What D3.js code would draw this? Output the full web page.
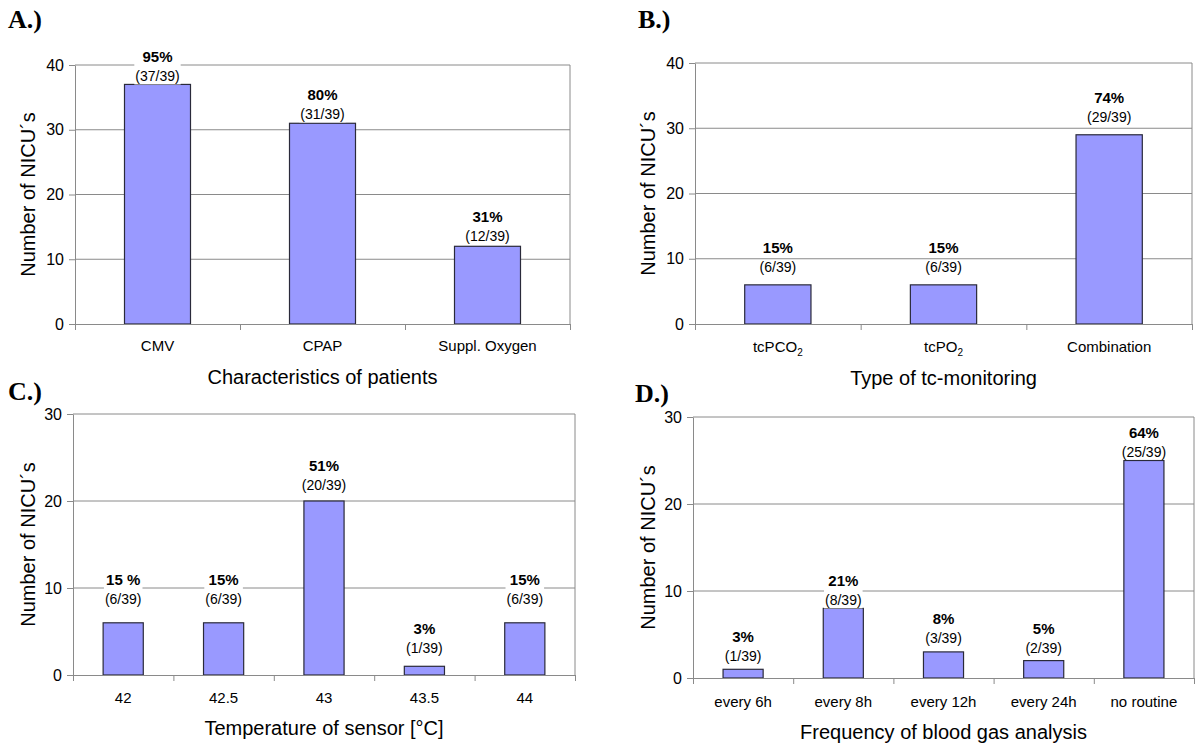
<!DOCTYPE html>
<html>
<head>
<meta charset="utf-8">
<script src="https://cdn.jsdelivr.net/npm/d3@7"></script>
<style>
  body { margin: 0; background: #fff; }
  text { font-family: "Liberation Sans", Arial, sans-serif; fill: #000; }
  text.letter { font-family: "Liberation Serif", "Times New Roman", serif; }
</style>
</head>
<body>
<svg id="chart" width="1200" height="750"></svg>
<script>
const total = 39;

// A.) characteristics of patients
const catsA = ["CMV", "CPAP", "Suppl. Oxygen"];
const valsA = [37, 31, 12];
const pctA = ["95%", "80%", "31%"];

// B.) type of tc-monitoring
const catsB = ["tcPCO2", "tcPO2", "Combination"];
const valsB = [6, 6, 29];
const pctB = ["15%", "15%", "74%"];

// C.) temperature of sensor
const catsC = ["42", "42.5", "43", "43.5", "44"];
const valsC = [6, 6, 20, 1, 6];
const pctC = ["15 %", "15%", "51%", "3%", "15%"];

// D.) frequency of blood gas analysis
const catsD = ["every 6h", "every 8h", "every 12h", "every 24h", "no routine"];
const valsD = [1, 8, 3, 2, 25];
const pctD = ["3%", "21%", "8%", "5%", "64%"];

const yTitle = "Number of NICU\u00B4s";

const panels = [
  { letter: "A.)", lx: 8, ly: 28, cats: catsA, vals: valsA, pct: pctA, max: 40,
    left: 75, right: 570, top: 65, bottom: 324, title: "Characteristics of patients",
    catY: 346, titleY: 377, ytX: 28, gaps: [8, 9, 10], labelBg: true },
  { letter: "B.)", lx: 638, ly: 28, cats: catsB, vals: valsB, pct: pctB, max: 40,
    left: 695, right: 1192, top: 63, bottom: 324, title: "Type of tc-monitoring",
    catY: 347, titleY: 378, ytX: 648, gaps: [18, 18, 18], labelBg: false },
  { letter: "C.)", lx: 8, ly: 400, cats: catsC, vals: valsC, pct: pctC, max: 30,
    left: 73, right: 575, top: 414, bottom: 675, title: "Temperature of sensor [\u00B0C]",
    catY: 698, titleY: 728, ytX: 28, gaps: [24, 24, 16, 18, 24], labelBg: true },
  { letter: "D.)", lx: 635, ly: 402, cats: catsD, vals: valsD, pct: pctD, max: 30,
    left: 693, right: 1194, top: 417, bottom: 678, title: "Frequency of blood gas analysis",
    catY: 702, titleY: 732, ytX: 648, gaps: [13, 8, 14, 13, 9], labelBg: true }
];

const svg = d3.select("#chart");
const gridColor = "#8a8a8a";

function catLabel(sel, name) {
  // tcPCO2 / tcPO2 get a subscript 2
  const m = name.match(/^(tcP(?:C)?O)2$/);
  if (m) {
    sel.append("tspan").text(m[1]);
    sel.append("tspan").attr("font-size", 10).attr("dy", 4).text("2");
  } else {
    sel.text(name);
  }
}

function drawPanel(p) {
  const g = svg.append("g");
  const n = p.cats.length;

  const y = d3.scaleLinear().domain([0, p.max]).range([p.bottom, p.top]);
  const x = d3.scaleBand().domain(p.cats).range([p.left, p.right])
    .paddingInner(0.6).paddingOuter(0.3);
  const xb = d3.scaleLinear().domain([0, n]).range([p.left, p.right]);
  const yTicks = d3.range(0, p.max + 1, 10);

  // gridlines
  g.append("g").selectAll("line")
    .data(yTicks.filter(d => d > 0))
    .join("line")
      .attr("x1", p.left).attr("x2", p.right)
      .attr("y1", d => y(d)).attr("y2", d => y(d))
      .attr("stroke", gridColor).attr("stroke-width", 1);

  // right edge of plot area
  g.append("line")
    .attr("x1", p.right).attr("x2", p.right)
    .attr("y1", y(p.max)).attr("y2", y(0))
    .attr("stroke", gridColor);

  // bars
  g.append("g").selectAll("rect")
    .data(p.vals)
    .join("rect")
      .attr("x", (d, i) => x(p.cats[i]))
      .attr("y", d => y(d))
      .attr("width", x.bandwidth())
      .attr("height", d => y(0) - y(d))
      .attr("fill", "#9999ff")
      .attr("stroke", "#2a2a3a")
      .attr("stroke-width", 1.2);

  // value labels
  const lab = g.append("g").selectAll("g")
    .data(p.vals)
    .join("g")
      .attr("transform", (d, i) => `translate(${x(p.cats[i]) + x.bandwidth() / 2},${y(d) - p.gaps[i]})`);

  const bg = lab.append("rect").attr("fill", "#fff");
  lab.append("text")
    .attr("text-anchor", "middle")
    .attr("y", 5)
    .attr("font-size", 14)
    .text(d => `(${d}/${total})`);
  lab.append("text")
    .attr("text-anchor", "middle")
    .attr("y", -14)
    .attr("font-size", 15)
    .attr("font-weight", "bold")
    .text((d, i) => p.pct[i]);

  if (p.labelBg) {
    bg.each(function () {
      const b = this.parentNode.getBBox();
      d3.select(this).attr("x", b.x - 1).attr("y", b.y).attr("width", b.width + 2).attr("height", b.height);
    });
  } else {
    bg.remove();
  }

  // y axis
  const ya = g.append("g")
    .attr("transform", `translate(${p.left},0)`)
    .call(d3.axisLeft(y).tickValues(yTicks).tickSize(6).tickSizeOuter(0).tickPadding(5));
  ya.select(".domain").attr("stroke", gridColor);
  ya.selectAll(".tick line").attr("stroke", gridColor);
  ya.selectAll(".tick text").attr("font-size", 16).attr("fill", "#000");

  // x axis (tick marks between categories)
  const xa = g.append("g")
    .attr("transform", `translate(0,${p.bottom})`)
    .call(d3.axisBottom(xb).tickValues(d3.range(n + 1)).tickFormat("").tickSize(6).tickSizeOuter(0));
  xa.select(".domain").attr("stroke", gridColor);
  xa.selectAll(".tick line").attr("stroke", gridColor);

  // category labels
  g.append("g").selectAll("text")
    .data(p.cats)
    .join("text")
      .attr("x", d => x(d) + x.bandwidth() / 2)
      .attr("y", p.catY + 5)
      .attr("text-anchor", "middle")
      .attr("font-size", 15)
      .each(function (d) { catLabel(d3.select(this), d); });

  // axis titles
  g.append("text")
    .attr("x", (p.left + p.right) / 2)
    .attr("y", p.titleY + 7)
    .attr("text-anchor", "middle")
    .attr("font-size", 20)
    .text(p.title);

  g.append("text")
    .attr("transform", `translate(${p.ytX + 7},${(p.top + p.bottom) / 2}) rotate(-90)`)
    .attr("text-anchor", "middle")
    .attr("font-size", 20)
    .text(yTitle);

  // panel letter
  svg.append("text")
    .attr("class", "letter")
    .attr("x", p.lx).attr("y", p.ly)
    .attr("font-weight", "bold")
    .attr("font-size", 26)
    .text(p.letter);
}

panels.forEach(drawPanel);
</script>
</body>
</html>
